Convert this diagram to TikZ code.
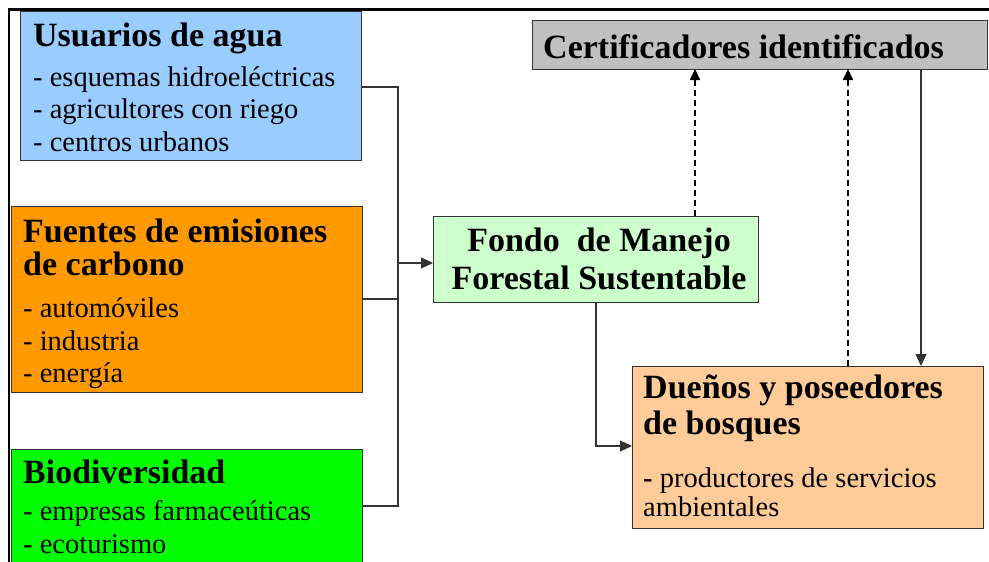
\documentclass[tikz,border=0pt]{standalone}
\usepackage{fontspec}
\setmainfont{Liberation Serif}
\usetikzlibrary{arrows.meta}
\definecolor{cblue}{HTML}{99CCFF}
\definecolor{corange}{HTML}{FF9900}
\definecolor{cgreen}{HTML}{00FF00}
\definecolor{clgreen}{HTML}{CCFFCC}
\definecolor{cgray}{HTML}{C0C0C0}
\definecolor{cpeach}{HTML}{FFCC99}
\begin{document}
\begin{tikzpicture}[x=1pt,y=-1pt,
  box/.style={draw=black!80, line width=0.9pt, rectangle, inner sep=0pt, outer sep=0pt, anchor=north west},
  ttl/.style={anchor=base west, inner sep=0pt, font=\fontsize{34}{34}\selectfont\bfseries},
  txt/.style={anchor=base west, inner sep=0pt, font=\fontsize{28.5}{28.5}\selectfont},
  conn/.style={draw=black!80, line width=1.1pt},
  arr/.style={conn, -{Triangle[length=12pt,width=11pt]}},
  darr/.style={draw=black, line width=1.8pt, dash pattern=on 6pt off 4pt, -{Triangle[length=11pt,width=10pt]}}]
\useasboundingbox (0,0) rectangle (989,562);

% outer frame
\draw[line width=2.5pt] (9,575) -- (9,9.5) -- (1000,9.5);

% boxes
\node[box, fill=cblue, minimum width=341pt, minimum height=149pt] (ua) at (20,11) {};
\node[box, fill=corange, minimum width=351pt, minimum height=186pt] (fe) at (11,206) {};
\node[box, fill=cgreen, minimum width=351pt, minimum height=130pt] (bio) at (11,449) {};
\node[box, fill=clgreen, minimum width=325pt, minimum height=86pt] (fondo) at (433,216) {};
\node[box, fill=cgray, minimum width=455pt, minimum height=49pt] (cert) at (532,20) {};
\node[box, fill=cpeach, minimum width=351pt, minimum height=162pt] (due) at (632,366) {};

% texts
\node[ttl] (ua0) at (33,46) {Usuarios de agua};
\node[txt] (ua1) at (33,86) {- esquemas hidroeléctricas};
\node[txt] (ua2) at (33,118) {- agricultores con riego};
\node[txt] (ua3) at (33,151) {- centros urbanos};

\node[ttl] (fe0) at (23,242) {Fuentes de emisiones};
\node[ttl] (fe0b) at (23,275) {de carbono};
\node[txt] (fe1) at (23,317) {- automóviles};
\node[txt] (fe2) at (23,350) {- industria};
\node[txt] (fe3) at (23,382) {- energía};

\node[ttl] (bio0) at (23,483) {Biodiversidad};
\node[txt] (bio1) at (23,520) {- empresas farmaceúticas};
\node[txt] (bio2) at (23,553) {- ecoturismo};

\node[ttl, anchor=base] (fo1) at (599,251) {Fondo\ \ de Manejo};
\node[ttl, anchor=base] (fo2) at (599,289) {Forestal Sustentable};

\node[ttl] (ce0) at (543,58) {Certificadores identificados};

\node[ttl] (du0) at (643,398) {Dueños y poseedores};
\node[ttl] (du0b) at (643,434) {de bosques};
\node[txt] (du1) at (643,487) {\textbf{-} productores de servicios};
\node[txt] (du2) at (643,516) {ambientales};

% connectors
\coordinate (jt) at (398,87);
\coordinate (jm) at (398,263);
\coordinate (jb) at (398,506);
\coordinate (fd) at (596,446);
\coordinate (c1) at (695,0);
\coordinate (c2) at (848,0);
\coordinate (c3) at (921,0);

\draw[conn] (jt -| ua.east) -- (jt) -- (jb) -- (jb -| bio.east);
\draw[conn] (fe.east) -- (fe.east -| jt);
\draw[arr] (jm) -- (jm -| fondo.west);
\draw[arr] (fondo.south -| fd) |- (fd -| due.west);
\draw[darr] (fondo.north -| c1) -- (cert.south -| c1);
\draw[darr] (due.north -| c2) -- (cert.south -| c2);
\draw[arr] (cert.south -| c3) -- (due.north -| c3);
\end{tikzpicture}
\end{document}
